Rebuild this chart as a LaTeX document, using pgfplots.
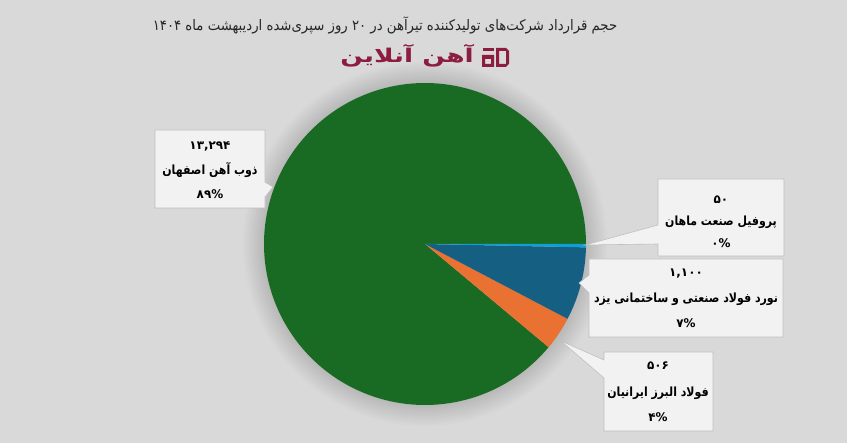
\documentclass[border=0pt]{standalone}
\usepackage{pgfplots}
\pgfplotsset{compat=1.18}
\usepackage{pgfplotstable}
\usepackage{fontspec}
\newfontfamily\fa[Script=Arabic]{DejaVu Sans}
\TeXXeTstate=1

\definecolor{pgreen}{HTML}{196B24}
\definecolor{pblue}{HTML}{156082}
\definecolor{porange}{HTML}{E97132}
\definecolor{pcyan}{HTML}{0F9ED5}
\definecolor{bgc}{HTML}{D9D9D9}
\definecolor{boxfill}{HTML}{F2F2F2}
\definecolor{boxline}{HTML}{BFBFBF}
\definecolor{logo}{HTML}{8C1D40}
\definecolor{txt}{HTML}{262626}

% order clockwise from 3 o'clock
\pgfplotstableread{
id value
1 50
2 1100
3 506
4 13294
}\pietable

\begin{document}
\begin{tikzpicture}
\pgfplotstablegetelem{0}{value}\of\pietable \let\vA\pgfplotsretval
\pgfplotstablegetelem{1}{value}\of\pietable \let\vB\pgfplotsretval
\pgfplotstablegetelem{2}{value}\of\pietable \let\vC\pgfplotsretval
\pgfplotstablegetelem{3}{value}\of\pietable \let\vD\pgfplotsretval
\pgfmathsetmacro{\tot}{(\vA+\vB+\vC+\vD)/100}
\pgfmathsetmacro{\aA}{-\vA/\tot*3.6}
\pgfmathsetmacro{\aB}{\aA-\vB/\tot*3.6}
\pgfmathsetmacro{\aC}{\aB-\vC/\tot*3.6}

\useasboundingbox (0,0) rectangle (847bp,443bp);
\fill[bgc] (0,0) rectangle (847bp,443bp);

% soft shadow round the pie
\begin{scope}[x=1bp,y=1bp]
\foreach \r in {162,164,...,182}
  \fill[black,opacity=0.013] (425,199) circle[radius=\r];
\end{scope}

\begin{axis}[at={(0,0)}, anchor=south west, x=1bp, y=1bp,
  xmin=-425, xmax=422, ymin=-199, ymax=244,
  hide axis, clip=false]
\addplot[fill=pgreen, draw=none, data cs=polar, domain=-360:\aC, samples=200] ({x},{161}) -- (axis cs:0,0) -- cycle;
\addplot[fill=porange, draw=none, data cs=polar, domain=\aC:\aB, samples=20] ({x},{161}) -- (axis cs:0,0) -- cycle;
\addplot[fill=pblue, draw=none, data cs=polar, domain=\aB:\aA, samples=40] ({x},{161}) -- (axis cs:0,0) -- cycle;
\addplot[fill=pcyan, draw=none, data cs=polar, domain=\aA:0, samples=5] ({x},{161}) -- (axis cs:0,0) -- cycle;
\end{axis}

\begin{scope}[x=1bp,y=-1bp,shift={(0,443bp)}]
% title and logo
\node[text=txt, font=\fa\fontsize{13.3}{15}\selectfont, yscale=1.1] at (385,25)
  {\beginR حجم قرارداد شرکت‌های تولیدکننده تیرآهن در ۲۰ روز سپری‌شده اردیبهشت ماه ۱۴۰۴\endR};
\node[text=logo, font=\fa\bfseries\fontsize{19}{21}\selectfont, xscale=1.4] at (407,56) {\beginR آهن آنلاین\endR};
\fill[logo] (483,48) rectangle (494,51);
\fill[logo, even odd rule] (482,55) rectangle (494,67) (485,59) rectangle (491,64);
\fill[logo, even odd rule] (496,48) -- (506,48) -- (509,51) -- (509,64) -- (506,67) -- (496,67) -- cycle
  (499,51) rectangle (506,64);

% callouts
\filldraw[fill=boxfill, draw=boxline, line width=0.6bp]
  (155,130) -- (265,130) -- (265,182) -- (273,187) -- (265,197) -- (265,208) -- (155,208) -- cycle;
\filldraw[fill=boxfill, draw=boxline, line width=0.6bp]
  (658,179) -- (784,179) -- (784,256) -- (658,256) -- (658,244) -- (585,245) -- (658,225) -- cycle;
\filldraw[fill=boxfill, draw=boxline, line width=0.6bp]
  (589,259) -- (783,259) -- (783,337) -- (589,337) -- (589,293) -- (579,283) -- (589,275) -- cycle;
\filldraw[fill=boxfill, draw=boxline, line width=0.6bp]
  (604,352) -- (713,352) -- (713,431) -- (604,431) -- (604,378) -- (561,341) -- (604,360) -- cycle;

\tikzset{num/.style={text=black, font=\fa\bfseries\fontsize{12}{14}\selectfont, inner sep=0pt},
  lab/.style={text=black, font=\fa\bfseries\fontsize{11}{13}\selectfont, inner sep=0pt, yscale=1.15}}
\node[num] at (210,146) {۱۳,۲۹۴};
\node[lab] at (210,170) {\beginR ذوب آهن اصفهان\endR};
\node[num] at (210,194) {۸۹\%};

\node[num] at (721,200) {۵۰};
\node[lab] at (721,222) {\beginR پروفیل صنعت ماهان\endR};
\node[num] at (721,243) {۰\%};

\node[num] at (686,274) {۱,۱۰۰};
\node[lab] at (686,299) {\beginR نورد فولاد صنعتی و ساختمانی یزد\endR};
\node[num] at (686,323) {۷\%};

\node[num] at (658,366) {۵۰۶};
\node[lab] at (658,393) {\beginR فولاد البرز ایرانیان\endR};
\node[num] at (658,417) {۴\%};
\end{scope}
\end{tikzpicture}
\end{document}
